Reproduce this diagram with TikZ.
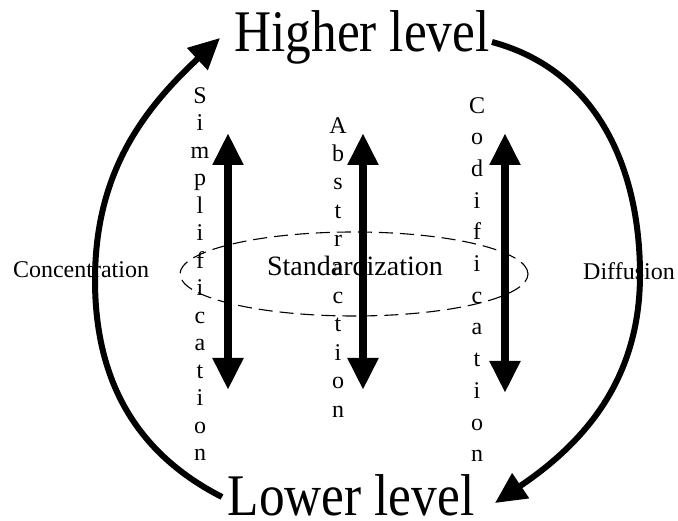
\documentclass[tikz,border=0pt]{standalone}
\usepackage{fontspec}
\setmainfont{Liberation Serif}
\newfontfamily\bigfont[FakeStretch=0.87]{Liberation Serif}
\usetikzlibrary{arrows.meta,shapes.geometric}
\begin{document}
\begin{tikzpicture}[x=1pt,y=1pt,
  level/.style={font=\bigfont\fontsize{59}{60}\selectfont, inner sep=0, anchor=base},
  side/.style={font=\fontsize{24}{26}\selectfont, inner sep=0, anchor=base},
  vword/.style={align=center, inner sep=0, anchor=north},
  dbl/.style={line width=8pt, {Triangle[length=32pt,width=29pt]}-{Triangle[length=32pt,width=29pt]}},
  cyclearrow/.style={line width=6pt, -{Triangle[length=31pt,width=29pt]}},
  ring/.style={draw, ellipse, line width=1.1pt, dash pattern=on 14pt off 7pt,
    minimum width=348pt, minimum height=84pt, inner sep=0}]
\useasboundingbox (0,0) rectangle (678,520);
% texts
\node[level] (high) at (362,468) {Higher level};
\node[level] (low) at (351,5) {Lower level};
\node[side] (conc) at (81,242) {Concentration};
\node[side] (diff) at (629,240) {Diffusion};
\node[ring] (ell) at (354,246) {};
\node[side, font=\fontsize{28}{30}\selectfont] (std) at (355,244) {Standardization};
% vertical words
\node[vword, font=\fontsize{24}{27.5}\selectfont] (simp) at (200,433)
  {S\\i\\m\\p\\l\\i\\f\\i\\c\\a\\t\\i\\o\\n};
\node[vword, font=\fontsize{24}{28.4}\selectfont] (abst) at (338,403)
  {A\\b\\s\\t\\r\\a\\c\\t\\i\\o\\n};
\node[vword, font=\fontsize{24}{31.7}\selectfont] (codi) at (477,423)
  {C\\o\\d\\i\\f\\i\\c\\a\\t\\i\\o\\n};
% double arrows
\coordinate (s1t) at (228,387); \coordinate (s1b) at (228,130);
\coordinate (s2t) at (363,387); \coordinate (s2b) at (363,130);
\coordinate (s3t) at (505,387); \coordinate (s3b) at (505,127);
\draw[dbl] (s1b) -- (s1t);
\draw[dbl] (s2b) -- (s2t);
\draw[dbl] (s3b) -- (s3t);
% cycle arrows
\coordinate (Ls) at (222,23); \coordinate (Lm) at (95,240); \coordinate (Le) at (220,482);
\draw[cyclearrow] (Ls) to[out=153,in=270] (Lm) to[out=90,in=223] (Le);
\coordinate (Rs) at (492,478); \coordinate (Rm) at (640,245); \coordinate (Re) at (495,17);
\draw[cyclearrow] (Rs) to[out=-15,in=90] (Rm) to[out=270,in=34] (Re);
\end{tikzpicture}
\end{document}
